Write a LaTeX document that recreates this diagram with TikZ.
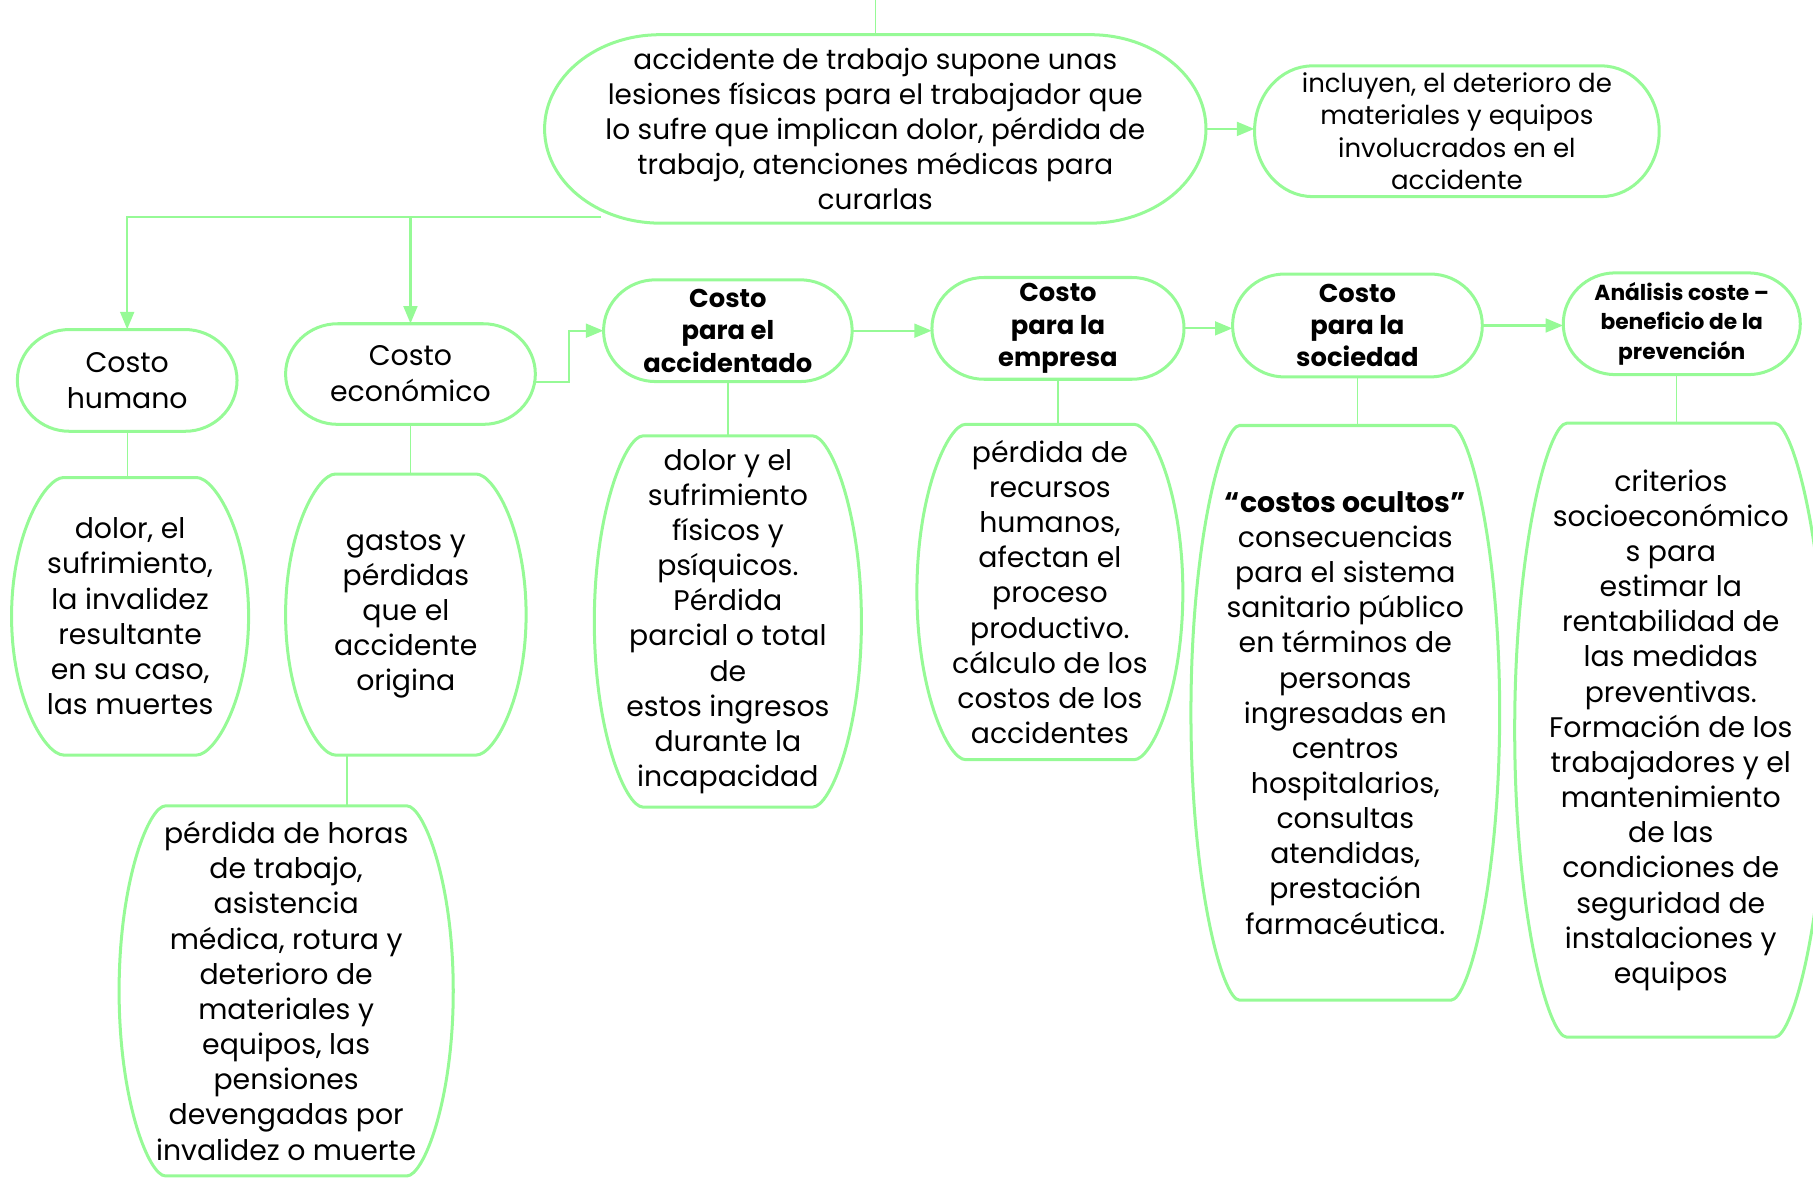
\documentclass[tikz,border=0pt]{standalone}
\usepackage{fontspec}
\setmainfont{Poppins}
\usetikzlibrary{arrows.meta}
\definecolor{grn}{RGB}{150,250,150}
\newcommand\mybox[8]{%
 \pgfmathsetmacro\mybw{#4-#2}\pgfmathsetmacro\mybh{#5-#3}%
 \pgfmathsetmacro\mycx{(#2+#4)/2}\pgfmathsetmacro\mycy{(#3+#5)/2}%
 \node[shp,minimum width=\mybw pt,minimum height=\mybh pt] (#1) at (\mycx,\mycy) {};
 \pgfmathsetmacro\myxa{#2+#6}\pgfmathsetmacro\myxb{#4-#6}%
 \pgfmathsetmacro\myxac{#2+#6-#7*#6}\pgfmathsetmacro\myxbc{#4-#6+#7*#6}%
 \pgfmathsetmacro\myyu{\mycy-#8*\mybh/2}\pgfmathsetmacro\myyd{\mycy+#8*\mybh/2}%
 \draw[boxline] (\myxa,#3) -- (\myxb,#3) .. controls (\myxbc,#3) and (#4,\myyu) .. (#4,\mycy)
   .. controls (#4,\myyd) and (\myxbc,#5) .. (\myxb,#5) -- (\myxa,#5)
   .. controls (\myxac,#5) and (#2,\myyd) .. (#2,\mycy)
   .. controls (#2,\myyu) and (\myxac,#3) .. cycle;
}
\tikzset{
 shp/.style={rectangle,inner sep=0pt,draw=none},
 boxline/.style={draw=grn,line width=2.6pt},
 txt/.style={inner sep=0pt,align=center,text=black},
 body/.style={txt,font={\fontsize{24.5}{30.4}\selectfont}},
 lab/.style={txt,font={\fontsize{22.3}{28}\selectfont\bfseries}},
 arr/.style={draw=grn,line width=1.8pt,-{Triangle[length=15pt,width=12pt]}},
 plain/.style={draw=grn,line width=1.8pt},
 thin/.style={draw=grn,line width=1.1pt}
}
\begin{document}
\begin{tikzpicture}[x=1pt,y=-1pt]
\useasboundingbox (0,0) rectangle (1568,1019);
% top
\mybox{top}{471}{30}{1043}{193}{100}{0.552}{0.552}
\node[txt,font={\fontsize{24.2}{30.3}\selectfont}] (top-t) at (top) {accidente de trabajo supone unas\\lesiones físicas para el trabajador que\\lo sufre que implican dolor, pérdida de\\trabajo, atenciones médicas para\\curarlas};
\mybox{inc}{1085}{57}{1435}{170}{50}{0.552}{0.552}
\node[txt,font={\fontsize{22.5}{28}\selectfont}] (inc-t) at (inc) {incluyen, el deterioro de\\materiales y equipos\\involucrados en el\\accidente};
% labels row
\mybox{hum}{15}{285}{205}{373}{45}{0.552}{0.552}
\node[txt,font={\fontsize{24.5}{31}\selectfont}] (hum-t) at (hum) {Costo\\humano};
\mybox{eco}{247}{280}{463}{367}{45}{0.552}{0.552}
\node[txt,font={\fontsize{24.5}{31}\selectfont}] (eco-t) at (eco) {Costo\\económico};
\mybox{acc}{522}{242}{737}{330}{45}{0.552}{0.552}
\node[lab] (acc-t) at (acc) {Costo\\para el\\accidentado};
\mybox{emp}{806}{240}{1024}{328}{45}{0.552}{0.552}
\node[lab] (emp-t) at (emp) {Costo\\para la\\empresa};
\mybox{soc}{1066}{237}{1282}{326}{45}{0.552}{0.552}
\node[lab] (soc-t) at (soc) {Costo\\para la\\sociedad};
\mybox{ana}{1352}{236}{1557}{324}{45}{0.552}{0.552}
\node[txt,font={\fontsize{18.8}{25.5}\selectfont\bfseries}] (ana-t) at (ana) {Análisis coste –\\beneficio de la\\prevención};
% body boxes
\mybox{b1}{10}{413}{215}{653}{45}{0.35}{0.6}
\node[body] (b1-t) at (b1) {dolor, el\\sufrimiento,\\la invalidez\\resultante\\en su caso,\\las muertes};
\mybox{b2}{247}{410}{455}{653}{43}{0.35}{0.6}
\node[body] (b2-t) at (b2) {gastos y\\pérdidas\\que el\\accidente\\origina};
\mybox{b3}{103}{697}{392}{1017}{40}{0.35}{0.6}
\node[body] (b3-t) at (b3) {pérdida de horas\\de trabajo,\\asistencia\\médica, rotura y\\deterioro de\\materiales y\\equipos, las\\pensiones\\devengadas por\\invalidez o muerte};
\mybox{b4}{514}{377}{745}{698}{42}{0.35}{0.6}
\node[body] (b4-t) at (b4) {dolor y el\\sufrimiento\\físicos y\\psíquicos.\\Pérdida\\parcial o total\\de\\estos ingresos\\durante la\\incapacidad};
\mybox{b5}{793}{367}{1023}{657}{42}{0.35}{0.6}
\node[body] (b5-t) at (b5) {pérdida de\\recursos\\humanos,\\afectan el\\proceso\\productivo.\\cálculo de los\\costos de los\\accidentes};
\mybox{b6}{1030}{368}{1297}{865}{42}{0.35}{0.6}
\node[body] (b6-t) at (b6) {\textbf{“costos ocultos”}\\consecuencias\\para el sistema\\sanitario público\\en términos de\\personas\\ingresadas en\\centros\\hospitalarios,\\consultas\\atendidas,\\prestación\\farmacéutica.};
\mybox{b7}{1310}{366}{1580}{897}{45}{0.35}{0.6}
\node[body] (b7-t) at (1445,631.5) {criterios\\socioeconómico\\s para\\estimar la\\rentabilidad de\\las medidas\\preventivas.\\Formación de los\\trabajadores y el\\mantenimiento\\de las\\condiciones de\\seguridad de\\instalaciones y\\equipos};
% connectors
\coordinate (topin) at (757,0);
\draw[thin] (topin) -- (top.north);
\draw[arr] (top.east) -- (top.east -| inc.west);
\coordinate (j1) at (520,188);
\draw[arr] (j1) -| (hum.north);
\coordinate (j2) at (eco.north |- j1);
\draw[arr] (j2) -- (eco.north);
\coordinate (j3) at (492,330);
\draw[arr] (eco.east |- j3) -- (j3) |- (acc.west);
\draw[arr] (acc.east) -- (acc.east -| emp.west);
\draw[arr] (emp.east) -- (emp.east -| soc.west);
\draw[arr] (soc.east) -- (soc.east -| ana.west);
\draw[thin] (hum.south) -- (hum.south |- b1.north);
\draw[thin] (eco.south) -- (eco.south |- b2.north);
\coordinate (j4) at (300,653);
\draw[thin] (j4) -- (j4 |- b3.north);
\draw[thin] (acc.south) -- (acc.south |- b4.north);
\draw[thin] (emp.south) -- (emp.south |- b5.north);
\draw[thin] (soc.south) -- (soc.south |- b6.north);
\draw[thin] (1450,324) -- (1450,366);
\end{tikzpicture}
\end{document}
